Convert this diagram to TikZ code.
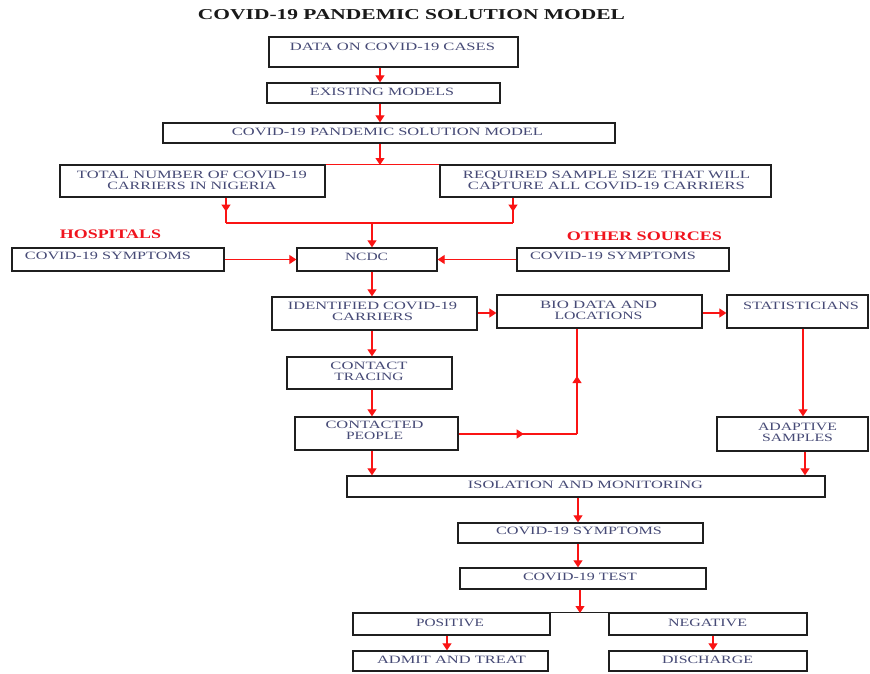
\documentclass[tikz,border=0pt]{standalone}
\usepackage{fontspec}
\setmainfont{Liberation Serif}
\usepackage{graphicx}
\usetikzlibrary{arrows.meta,decorations.markings}
\definecolor{txtc}{RGB}{70,74,118}
\definecolor{arrred}{RGB}{250,20,20}
\definecolor{lblred}{RGB}{240,20,30}
\newcommand{\tx}[2]{\resizebox{#1pt}{7.4pt}{#2}}
\newcommand{\lb}[2]{\resizebox{#1pt}{8.6pt}{\bfseries #2}}
\begin{document}
\begin{tikzpicture}[x=1pt,y=-1pt,
  boxst/.style={draw=black!88,line width=1.3pt,rectangle,inner sep=0pt},
  txt/.style={inner sep=0pt,text=txtc,align=center,font=\fontsize{10}{11}\selectfont},
  lbl/.style={inner sep=0pt,text=lblred},
  redline/.style={draw=arrred,line width=1.1pt},
  arr/.style={redline,-{Triangle[length=7pt,width=9pt]}},
  midarr/.style={redline,postaction={decorate},decoration={markings,
      mark=at position 0.55 with {\arrow{Triangle[length=7pt,width=9pt]}}}},
]
\useasboundingbox (0,0) rectangle (870,673);
\fill[white] (0,0) rectangle (870,673);

% title
\node[inner sep=0pt,text=black!90] (title) at (411.5,15) {\resizebox{427pt}{10pt}{\bfseries COVID-19 PANDEMIC SOLUTION MODEL}};

% boxes
\node[boxst,minimum width=249pt,minimum height=30pt] (data) at (393.5,52) {};
\node[boxst,minimum width=233pt,minimum height=20pt] (exist) at (383.5,93) {};
\node[boxst,minimum width=452pt,minimum height=20pt] (model) at (389,133) {};
\node[boxst,minimum width=265pt,minimum height=32pt] (total) at (192.5,181) {};
\node[boxst,minimum width=331pt,minimum height=32pt] (req) at (605.5,181) {};
\node[boxst,minimum width=212pt,minimum height=23pt] (hsym) at (118,259.5) {};
\node[boxst,minimum width=140pt,minimum height=23pt] (ncdc) at (367,259.5) {};
\node[boxst,minimum width=212pt,minimum height=23pt] (osym) at (623,259.5) {};
\node[boxst,minimum width=205pt,minimum height=33pt] (ident) at (374.5,313.5) {};
\node[boxst,minimum width=205pt,minimum height=33pt] (bio) at (599.5,311.5) {};
\node[boxst,minimum width=141pt,minimum height=33pt] (stat) at (797.5,311.5) {};
\node[boxst,minimum width=165pt,minimum height=32pt] (trace) at (369.5,373) {};
\node[boxst,minimum width=163pt,minimum height=33pt] (contd) at (376.5,433.5) {};
\node[boxst,minimum width=151pt,minimum height=34pt] (adapt) at (792.5,434) {};
\node[boxst,minimum width=478pt,minimum height=21pt] (iso) at (586,486.5) {};
\node[boxst,minimum width=245pt,minimum height=20pt] (sym2) at (580.5,533) {};
\node[boxst,minimum width=246pt,minimum height=21pt] (test) at (583,578.5) {};
\node[boxst,minimum width=197pt,minimum height=22pt] (pos) at (451.5,624) {};
\node[boxst,minimum width=198pt,minimum height=22pt] (neg) at (708,624) {};
\node[boxst,minimum width=195pt,minimum height=20pt] (admit) at (450.5,661) {};
\node[boxst,minimum width=198pt,minimum height=20pt] (disch) at (708,661) {};

% texts
\node[txt] (data-t) at (392.5,47) {\tx{205}{DATA ON COVID-19 CASES}};
\node[txt] (exist-t) at (382,92) {\tx{144}{EXISTING MODELS}};
\node[txt] (model-t) at (387.5,132) {\tx{311}{COVID-19 PANDEMIC SOLUTION MODEL}};
\node[txt] (total-t) at (192,180.5) {\tx{230}{TOTAL NUMBER OF COVID-19}\\\tx{169}{CARRIERS IN NIGERIA}};
\node[txt] (req-t) at (606.5,180.5) {\tx{287}{REQUIRED SAMPLE SIZE THAT WILL}\\\tx{277}{CAPTURE ALL COVID-19 CARRIERS}};
\node[lbl] (hosp) at (110.5,234) {\lb{101}{HOSPITALS}};
\node[lbl] (other) at (644.5,236) {\lb{155}{OTHER SOURCES}};
\node[txt] (hsym-t) at (108,256) {\tx{166}{COVID-19 SYMPTOMS}};
\node[txt] (ncdc-t) at (366.5,257) {\tx{43}{NCDC}};
\node[txt] (osym-t) at (613,256) {\tx{166}{COVID-19 SYMPTOMS}};
\node[txt] (ident-t) at (372.5,311.5) {\tx{169}{IDENTIFIED COVID-19}\\\tx{81}{CARRIERS}};
\node[txt] (bio-t) at (598.5,310) {\tx{117}{BIO DATA AND}\\\tx{88}{LOCATIONS}};
\node[txt] (stat-t) at (801,306) {\tx{116}{STATISTICIANS}};
\node[txt] (trace-t) at (369,371.5) {\tx{77}{CONTACT}\\\tx{69}{TRACING}};
\node[txt] (contd-t) at (374.5,430.5) {\tx{98}{CONTACTED}\\\tx{57}{PEOPLE}};
\node[txt] (adapt-t) at (797.5,432) {\tx{79}{ADAPTIVE}\\\tx{71}{SAMPLES}};
\node[txt] (iso-t) at (585.5,485) {\tx{235}{ISOLATION AND MONITORING}};
\node[txt] (sym2-t) at (579,531) {\tx{166}{COVID-19 SYMPTOMS}};
\node[txt] (test-t) at (580,577) {\tx{114}{COVID-19 TEST}};
\node[txt] (pos-t) at (450,623) {\tx{68}{POSITIVE}};
\node[txt] (neg-t) at (707.5,623) {\tx{79}{NEGATIVE}};
\node[txt] (admit-t) at (451.5,660) {\tx{149}{ADMIT AND TREAT}};
\node[txt] (disch-t) at (707.5,660) {\tx{91}{DISCHARGE}};

% junction coordinates
\coordinate (jt) at (380,165);
\coordinate (j1) at (226,223);
\coordinate (j2) at (513,223);
\coordinate (jm) at (372,223);
\coordinate (jb) at (577,434);
\coordinate (jp) at (580,613);

% connectors
\draw[arr] (data.south -| jt) -- (exist.north -| jt);
\draw[arr] (exist.south -| jt) -- (model.north -| jt);
\draw[redline] (total.north east) -- (req.north west);
\draw[arr] (model.south -| jt) -- (jt);
\draw[midarr] (total.south -| j1) -- (j1);
\draw[midarr] (req.south -| j2) -- (j2);
\draw[redline] (j1) -- (j2);
\draw[arr] (jm) -- (ncdc.north -| jm);
\draw[arr] (hsym.east) -- (ncdc.west);
\draw[arr] (osym.west) -- (ncdc.east);
\draw[arr] (ncdc.south -| jm) -- (ident.north -| jm);
\draw[arr] (ident.east |- 0,313) -- (bio.west |- 0,313);
\draw[arr] (bio.east |- 0,313) -- (stat.west |- 0,313);
\draw[arr] (ident.south -| jm) -- (trace.north -| jm);
\draw[arr] (trace.south -| jm) -- (contd.north -| jm);
\draw[midarr] (contd.east |- jb) -- (jb);
\draw[midarr] (jb) -- (bio.south -| jb);
\draw[arr] (stat.south -| 803,0) -- (adapt.north -| 803,0);
\draw[arr] (adapt.south -| 805,0) -- (iso.north -| 805,0);
\draw[arr] (contd.south -| jm) -- (iso.north -| jm);
\draw[arr] (iso.south -| 578,0) -- (sym2.north -| 578,0);
\draw[arr] (sym2.south -| 578,0) -- (test.north -| 578,0);
\draw[draw=black!88,line width=1.3pt] (pos.north east) -- (neg.north west);
\draw[arr] (test.south -| jp) -- (jp);
\draw[arr] (pos.south -| 447,0) -- (admit.north -| 447,0);
\draw[arr] (neg.south -| 713,0) -- (disch.north -| 713,0);
\end{tikzpicture}
\end{document}
